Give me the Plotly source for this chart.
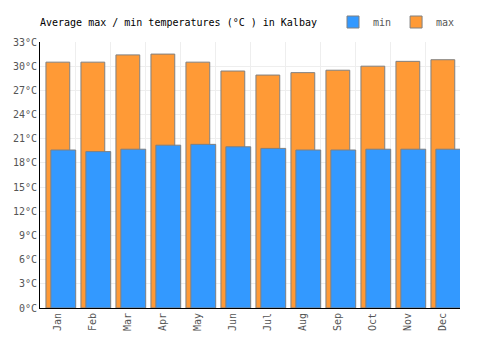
import plotly.graph_objects as go

months = ["Jan","Feb","Mar","Apr","May","Jun","Jul","Aug","Sep","Oct","Nov","Dec"]
max_t = [30.5, 30.5, 31.4, 31.5, 30.5, 29.4, 28.9, 29.2, 29.5, 30.0, 30.6, 30.8]
min_t = [19.6, 19.4, 19.7, 20.2, 20.3, 20.0, 19.8, 19.6, 19.6, 19.7, 19.7, 19.7]
y_ticks = list(range(0, 34, 3))
y_labels = [f"{v}°C" for v in y_ticks]

xs = list(range(len(months)))
font = "DejaVu Sans Mono"

fig = go.Figure()
fig.add_trace(go.Bar(x=xs, y=max_t, name="max", offset=-0.33, width=0.68,
                     marker=dict(color="#FF9A36", line=dict(color="#808080", width=1))))
fig.add_trace(go.Bar(x=xs, y=min_t, name="min", offset=-0.19, width=0.71,
                     marker=dict(color="#3399FF", line=dict(color="#808080", width=1))))

fig.update_layout(
    width=500, height=350,
    margin=dict(l=40, r=40, t=42, b=42, autoexpand=False),
    barmode="overlay",
    paper_bgcolor="white", plot_bgcolor="white",
    font=dict(family=font, size=10, color="#555"),
    title=dict(text="Average max / min temperatures (°C ) in Kalbay", x=40/500, xanchor="left",
               y=1-22/350, yanchor="middle", font=dict(family=font, size=10, color="#000")),
    legend=dict(orientation="h", x=1.0, xref="paper", y=1 + 20/266, yref="paper",
                xanchor="right", yanchor="middle", traceorder="reversed",
                font=dict(family=font, size=10, color="#555"),
                itemwidth=30, tracegroupgap=0, bgcolor="rgba(0,0,0,0)"),
    showlegend=True,
)
fig.update_xaxes(range=[-0.5, 11.5], tickmode="array", tickvals=xs, ticktext=months,
                 tickangle=-90, showgrid=False, showline=True, linecolor="#000", linewidth=1,
                 ticks="", zeroline=False,
                 minor=dict(tickmode="array", tickvals=[i + 0.5 for i in range(-1, 12)],
                            showgrid=True, gridcolor="#eeeeee", gridwidth=1))
fig.update_yaxes(range=[0, 33], tickmode="array", tickvals=y_ticks, ticktext=y_labels,
                 showgrid=True, gridcolor="#eeeeee", gridwidth=1, showline=True,
                 linecolor="#000", linewidth=1, zeroline=False, ticks="")

fig.write_html("out.html")
